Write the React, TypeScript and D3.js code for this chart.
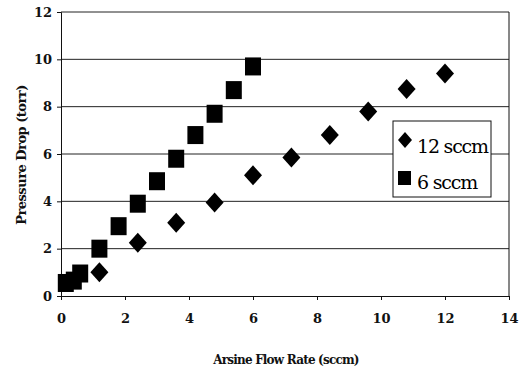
import * as d3 from 'd3';
import { useEffect, useRef } from 'react';

const diamondX = [1.2, 2.4, 3.6, 4.8, 6.0, 7.2, 8.4, 9.6, 10.8, 12.0];
const diamondY = [1.0, 2.25, 3.1, 3.95, 5.1, 5.85, 6.8, 7.8, 8.75, 9.4];

const squareX = [0.15, 0.4, 0.6, 1.2, 1.8, 2.4, 3.0, 3.6, 4.2, 4.8, 5.4, 6.0];
const squareY = [0.55, 0.65, 0.95, 2.0, 2.95, 3.9, 4.85, 5.8, 6.8, 7.7, 8.7, 9.7];

const xTicks = [0, 2, 4, 6, 8, 10, 12, 14];
const yTicks = [0, 2, 4, 6, 8, 10, 12];
const legendLabels = ['12 sccm', '6 sccm'];

const W = 526;
const H = 366;
const margin = { top: 12, right: 17, bottom: 70, left: 61 };
const FONT = "'DejaVu Serif', serif";

const App = () => {
  const svgRef = useRef<SVGSVGElement | null>(null);

  useEffect(() => {
    if (!svgRef.current) return;
    const svg = d3.select(svgRef.current);
    svg.selectAll('*').remove();

    const width = W - margin.left - margin.right;
    const height = H - margin.top - margin.bottom;

    const x = d3.scaleLinear().domain([0, 14]).range([0, width]);
    const y = d3.scaleLinear().domain([0, 12]).range([height, 0]);

    svg.append('rect').attr('width', W).attr('height', H).attr('fill', '#fff');

    const g = svg.append('g').attr('transform', `translate(${margin.left},${margin.top})`);

    // gridlines
    g.append('g')
      .selectAll('line')
      .data(yTicks.filter(d => d > 0))
      .join('line')
      .attr('x1', 0)
      .attr('x2', width)
      .attr('y1', d => y(d))
      .attr('y2', d => y(d))
      .attr('stroke', '#222')
      .attr('stroke-width', 1);

    // right border
    g.append('line').attr('x1', width).attr('x2', width).attr('y1', 0).attr('y2', height).attr('stroke', '#111');

    // axes
    const yAxis = d3.axisLeft(y).tickValues(yTicks).tickSize(4).tickPadding(5);
    g.append('g')
      .call(yAxis)
      .attr('font-family', null)
      .call(a => a.select('.domain').attr('stroke', '#111'))
      .call(a => a.selectAll('.tick line').attr('stroke', '#111'))
      .call(a => a.selectAll('text').style('font-family', FONT).attr('font-size', 13).attr('font-weight', 'bold').attr('fill', '#111'));

    const xAxis = d3.axisBottom(x).tickValues(xTicks).tickSize(4).tickPadding(14);
    g.append('g')
      .attr('transform', `translate(0,${height})`)
      .call(xAxis)
      .attr('font-family', null)
      .call(a => a.select('.domain').attr('stroke', '#111'))
      .call(a => a.selectAll('.tick line').attr('stroke', '#111'))
      .call(a => a.selectAll('text').style('font-family', FONT).attr('font-size', 13).attr('font-weight', 'bold').attr('fill', '#111'));

    // axis titles
    svg.append('text')
      .attr('x', 286)
      .attr('y', 364)
      .attr('text-anchor', 'middle')
      .style('font-family', FONT)
      .attr('font-size', 12)
      .attr('font-weight', 'bold')
      .attr('letter-spacing', -0.8)
      .attr('fill', '#111')
      .text('Arsine Flow Rate (sccm)');

    svg.append('text')
      .attr('transform', 'translate(26,155) rotate(-90)')
      .attr('text-anchor', 'middle')
      .style('font-family', FONT)
      .attr('font-size', 13)
      .attr('font-weight', 'bold')
      .attr('letter-spacing', -0.5)
      .attr('fill', '#111')
      .text('Pressure Drop (torr)');

    // markers
    const diamond = (cx: number, cy: number, w: number, h: number) =>
      `M${cx},${cy - h / 2}L${cx + w / 2},${cy}L${cx},${cy + h / 2}L${cx - w / 2},${cy}Z`;

    g.append('g')
      .selectAll('path')
      .data(diamondX.map((d, i) => [d, diamondY[i]]))
      .join('path')
      .attr('d', d => diamond(x(d[0]), y(d[1]), 18, 20))
      .attr('fill', '#000');

    g.append('g')
      .selectAll('rect')
      .data(squareX.map((d, i) => [d, squareY[i]]))
      .join('rect')
      .attr('x', d => x(d[0]) - 8)
      .attr('y', d => y(d[1]) - 9)
      .attr('width', 16)
      .attr('height', 18)
      .attr('fill', '#000');

    // legend
    const lg = svg.append('g').attr('transform', 'translate(393,121)');
    lg.append('rect').attr('width', 98).attr('height', 76).attr('fill', '#fff').attr('stroke', '#111').attr('stroke-width', 1);
    lg.append('path').attr('d', diamond(12, 19, 14, 16)).attr('fill', '#000');
    lg.append('rect').attr('x', 5).attr('y', 50).attr('width', 13).attr('height', 14).attr('fill', '#000');
    lg.selectAll('text.lbl')
      .data(legendLabels)
      .join('text')
      .attr('class', 'lbl')
      .attr('x', 24)
      .attr('y', (d, i) => 32 + i * 36)
      .style('font-family', FONT)
      .attr('font-size', 19)
      .attr('letter-spacing', -1.2)
      .attr('fill', '#000')
      .text(d => d);
  }, []);

  return <svg ref={svgRef} width={W} height={H} style={{ position: 'absolute', left: 0, top: 0 }} />;
};

export default App;
